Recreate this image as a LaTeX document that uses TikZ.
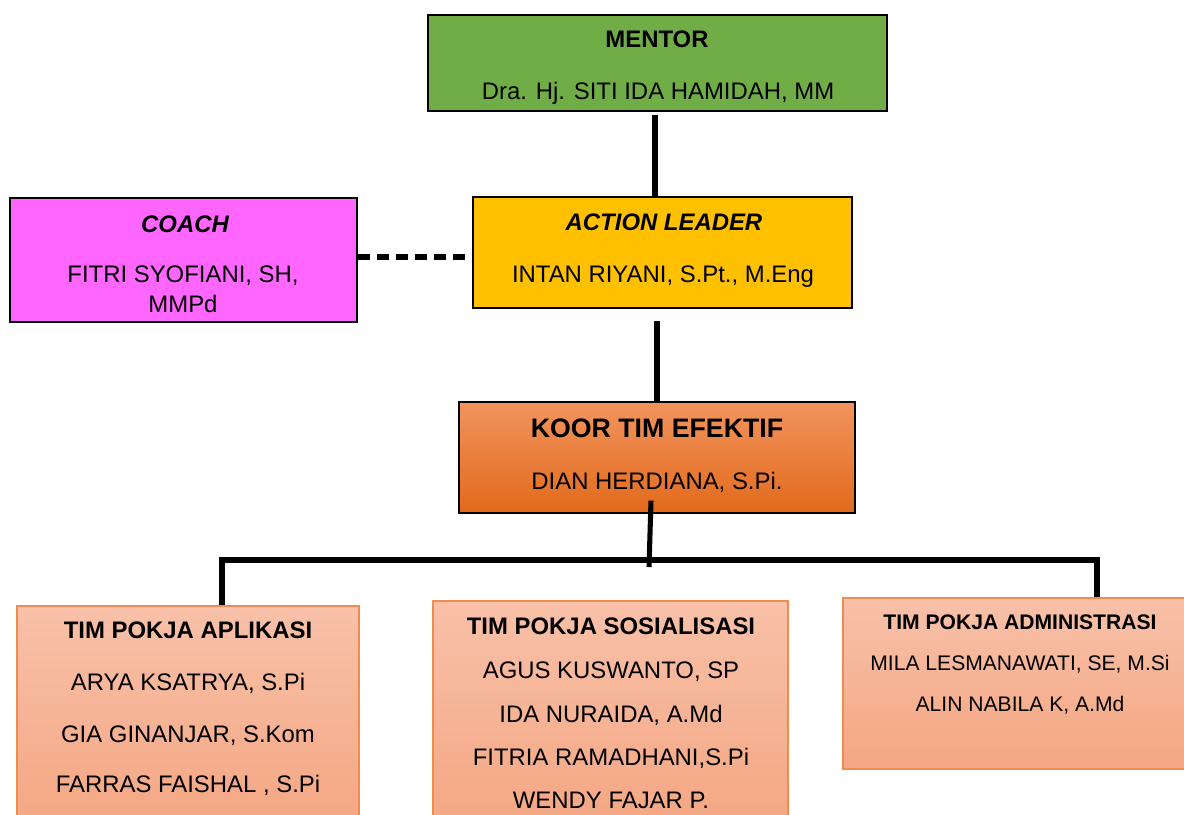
\documentclass[tikz,border=0pt]{standalone}
\usepackage{fontspec}
\setmainfont{Liberation Sans}
\usetikzlibrary{fit,calc}
\definecolor{mentorgreen}{RGB}{112,173,71}
\definecolor{leaderyellow}{RGB}{255,192,0}
\definecolor{coachpink}{RGB}{255,102,255}
\definecolor{koortop}{RGB}{242,148,94}
\definecolor{koormid}{RGB}{242,124,44}
\definecolor{koorbot}{RGB}{226,106,28}
\definecolor{pokjatop}{RGB}{248,193,169}
\definecolor{pokjabot}{RGB}{244,166,130}
\definecolor{pokjaline}{RGB}{240,140,80}
\tikzset{
  box/.style={draw=black, line width=0.9pt, inner sep=0pt},
  pokjabox/.style={draw=pokjaline, line width=0.9pt, inner sep=0pt,
    top color=pokjatop, bottom color=pokjabot},
  txt/.style={anchor=base, inner sep=0pt, font=\fontsize{17}{20}\selectfont},
  head/.style={txt, font=\fontsize{17}{20}\selectfont\bfseries},
  link/.style={line width=3.8pt},
}

\begin{document}
\begin{tikzpicture}[x=0.025cm, y=-0.025cm]
  \useasboundingbox (0,0) rectangle (1184,815);
  \clip (0,0) rectangle (1184,815);
  % boxes
  \node[box, fill=mentorgreen, fit={(428,15) (887,111)}] (mentor) {};
  \node[box, fill=leaderyellow, fit={(473,197) (852,308)}] (leader) {};
  \node[box, fill=coachpink, fit={(10,198) (357,322)}] (coach) {};
  \node[box, top color=koortop, middle color=koormid, bottom color=koorbot,
    fit={(459,402) (855,513)}] (koor) {};
  \node[pokjabox, fit={(17,606) (359,830)}] (aplikasi) {};
  \node[pokjabox, fit={(433,601) (788,830)}] (sosialisasi) {};
  \node[pokjabox, fit={(843,598) (1197,769)}] (admin) {};
  % texts
  \node[head] (mentor-t) at (657,47) {MENTOR};
  \node[txt] (mentor-n) at (658,99) {Dra. Hj. SITI IDA HAMIDAH, MM};
  \node[head, font=\fontsize{17}{20}\selectfont\bfseries\itshape] (leader-t)
    at (664,230) {ACTION LEADER};
  \node[txt] (leader-n) at (663,282) {INTAN RIYANI, S.Pt., M.Eng};
  \node[head, font=\fontsize{17}{20}\selectfont\bfseries\itshape] (coach-t)
    at (185,232) {COACH};
  \node[txt] (coach-n1) at (183,282) {FITRI SYOFIANI, SH,};
  \node[txt] (coach-n2) at (183,312) {MMPd};
  \node[head, font=\fontsize{19}{22}\selectfont\bfseries] (koor-t)
    at (657,437) {KOOR TIM EFEKTIF};
  \node[txt] (koor-n) at (657,489) {DIAN HERDIANA, S.Pi.};
  \node[head] (aplikasi-t) at (188,638) {TIM POKJA APLIKASI};
  \node[txt] (aplikasi-1) at (188,690) {ARYA KSATRYA, S.Pi};
  \node[txt] (aplikasi-2) at (188,742) {GIA GINANJAR, S.Kom};
  \node[txt] (aplikasi-3) at (188,792) {FARRAS FAISHAL , S.Pi};
  \node[head] (sosialisasi-t) at (611,634) {TIM POKJA SOSIALISASI};
  \node[txt] (sosialisasi-1) at (611,678) {AGUS KUSWANTO, SP};
  \node[txt] (sosialisasi-2) at (611,722) {IDA NURAIDA, A.Md};
  \node[txt] (sosialisasi-3) at (611,765) {FITRIA RAMADHANI,S.Pi};
  \node[txt] (sosialisasi-4) at (611,808) {WENDY FAJAR P.};
  \node[head, font=\fontsize{15}{18}\selectfont\bfseries] (admin-t)
    at (1020,629) {TIM POKJA ADMINISTRASI};
  \node[txt, font=\fontsize{15}{18}\selectfont] (admin-1) at (1020,670)
    {MILA LESMANAWATI, SE, M.Si};
  \node[txt, font=\fontsize{15}{18}\selectfont] (admin-2) at (1020,711)
    {ALIN NABILA K, A.Md};
  % connectors
  \coordinate (busL) at (222,560);
  \coordinate (busR) at (1097,560);
  \coordinate (busM) at (649,567);
  \draw[link] (mentor.south) ++(-2.5,3) -- ([xshift=-2.5*0.025cm]mentor.south |- leader.north);
  \draw[link] (koor.north |- leader.south) ++(0,12) -- (koor.north);
  \draw[link, line width=3.6pt, dash pattern=on 8.5pt off 5pt]
    (coach.east |- 0,257) -- (leader.west |- 0,257);
  \draw[link, line width=3.6pt] (koor.south) ++(-6,-13) -- (busM);
  \draw[link, line width=3.6pt] (busL |- aplikasi.north) -- (busL) -- (busR)
    -- (busR |- admin.north);
\end{tikzpicture}
\end{document}
